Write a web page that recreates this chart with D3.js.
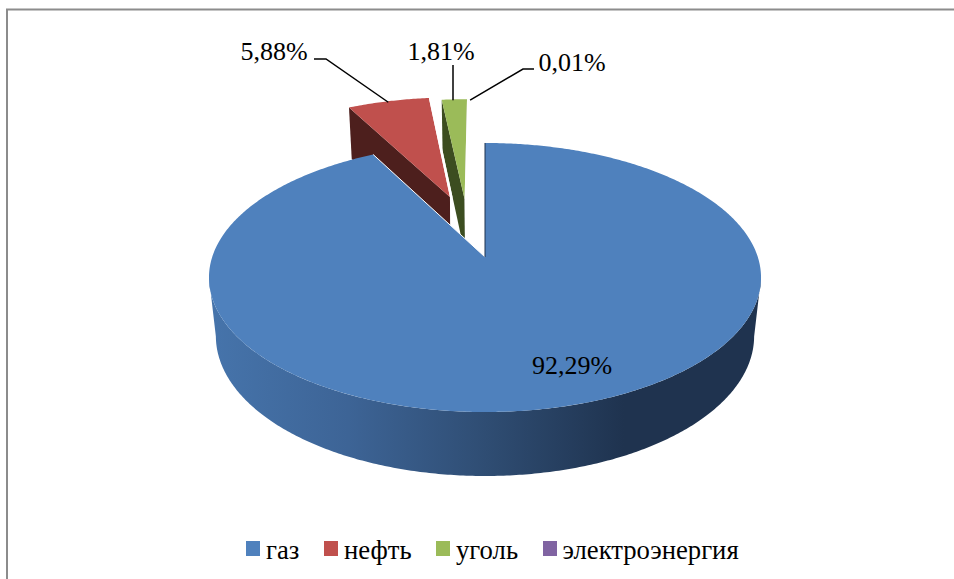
<!DOCTYPE html>
<html>
<head>
<meta charset="utf-8">
<script src="https://cdn.jsdelivr.net/npm/d3@7/dist/d3.min.js"></script>
<style>
    html, body { margin: 0; padding: 0; background: #fff; overflow: hidden; }
    text { font-family: "Liberation Serif", serif; fill: #000; }
</style>
</head>
<body>
<svg class="chart" width="954" height="579"></svg>
<script>
const categories = ["газ", "нефть", "уголь", "электроэнергия"];
const values = [92.29, 5.88, 1.81, 0.01];

const faceColors = ["#4f81bd", "#c0504d", "#9bbb59", "#8064a2"];
const wallColors = ["#1f3350", "#4d1f1d", "#3c4d20", "#3f3151"];

// how far every slice is pulled out of the pie, in units of the radius
const explode = [[0, 0], [-0.138, -0.491], [-0.08, -0.47], [-0.08, -0.47]];

// perspective of the pie plane, fitted on the rim of the big slice
const center = { x: 485, y: 257 };
const persp = { a: 272.8, b: 131.4, k: 0.1524, c: 59.7, m: 0.025 };

const svg = d3.select(".chart");

const color = d3.scaleOrdinal().domain(categories).range(faceColors);
const wallColor = d3.scaleOrdinal().domain(categories).range(wallColors);

const slices = d3.pie().sort(null).value(d => d.value)(
    categories.map((name, i) => ({ name, value: values[i], offset: explode[i] }))
);

// u, v on the plane of the pie, z = 0 on top, z = 1 on the bottom
function project(u, v, z) {
    const w = 1 - persp.k * v + persp.m * z;
    return [center.x + persp.a * u / w, center.y + (persp.b * v + persp.c * z) / w];
}

function rimPoint(d, angle, z) {
    return project(Math.sin(angle) + d.data.offset[0], -Math.cos(angle) + d.data.offset[1], z);
}

function apexPoint(d, z) {
    return project(d.data.offset[0], d.data.offset[1], z);
}

const line = d3.line();

function sweep(from, to) {
    const n = Math.max(2, Math.ceil(Math.abs(to - from) / 0.01));
    return d3.range(n + 1).map(i => from + (to - from) * i / n);
}

function facePath(d) {
    return line([apexPoint(d, 0), ...sweep(d.startAngle, d.endAngle).map(a => rimPoint(d, a, 0))]) + "Z";
}

function cutWallPath(d) {
    return line([apexPoint(d, 0), rimPoint(d, d.startAngle, 0), rimPoint(d, d.startAngle, 1), apexPoint(d, 1)]) + "Z";
}

const defs = svg.append("defs");
const grad = defs.append("linearGradient")
    .attr("id", "wall-gas")
    .attr("gradientUnits", "userSpaceOnUse")
    .attr("x1", 210).attr("x2", 762).attr("y1", 0).attr("y2", 0);
grad.append("stop").attr("offset", "0").attr("stop-color", "#4674ab");
grad.append("stop").attr("offset", "0.25").attr("stop-color", "#3d6496");
grad.append("stop").attr("offset", "0.5").attr("stop-color", "#2f4d73");
grad.append("stop").attr("offset", "0.75").attr("stop-color", "#1f334f");
grad.append("stop").attr("offset", "1").attr("stop-color", "#1f334f");

// frame of the chart, only top and left are inside the picture
svg.append("path")
    .attr("d", "M7,579V9.5H954")
    .attr("fill", "none")
    .attr("stroke", "#8c8c8c")
    .attr("stroke-width", 2);

// small slices first, the big one covers them
const drawOrder = [3, 2, 1];
drawOrder.forEach(i => {
    const d = slices[i];
    const g = svg.append("g");
    g.append("path")
        .attr("d", cutWallPath(d))
        .attr("fill", wallColor(d.data.name));
    g.append("path")
        .attr("d", facePath(d))
        .attr("fill", color(d.data.name));
    // white halo along the right cut, it eats into the slice behind
    g.append("path")
        .attr("d", line([rimPoint(d, d.endAngle, 0), apexPoint(d, 0), apexPoint(d, 1)]))
        .attr("fill", "none")
        .attr("stroke", "#fff")
        .attr("stroke-width", 2.5)
        .attr("transform", "translate(1.2,0)");
});

// outer wall of the big slice
const gas = slices[0];
const tangent = Math.acos(-persp.k);
const wallAngles = sweep(tangent, 2 * Math.PI - tangent);
svg.append("path")
    .attr("d", line([
        ...wallAngles.map(a => rimPoint(gas, a, 0)),
        ...wallAngles.slice().reverse().map(a => rimPoint(gas, a, 1))
    ]) + "Z")
    .attr("fill", "url(#wall-gas)");

svg.append("path")
    .attr("d", facePath(gas))
    .attr("fill", color(gas.data.name));

// white halo on the back cut of the big slice, then the wall seen edge on
svg.append("path")
    .attr("d", line([rimPoint(gas, gas.endAngle, 0), apexPoint(gas, 0)]))
    .attr("stroke", "#fff")
    .attr("stroke-width", 1)
    .attr("fill", "none");

svg.append("path")
    .attr("d", line([rimPoint(gas, 0, 0), apexPoint(gas, 0)]))
    .attr("stroke", "#1f334f")
    .attr("stroke-width", 1)
    .attr("fill", "none");

// value labels
const pct = d3.formatLocale({ decimal: ",", thousands: " ", grouping: [3], currency: ["", ""] }).format(".2f");
const labelPos = [[572, 374], [274, 60], [441, 60], [572, 71]];

svg.selectAll(".value-label")
    .data(slices)
    .enter()
    .append("text")
    .attr("class", "value-label")
    .attr("x", (d, i) => labelPos[i][0])
    .attr("y", (d, i) => labelPos[i][1])
    .attr("text-anchor", "middle")
    .style("font-size", "26px")
    .text(d => pct(d.data.value) + "%");

// leader lines, from the label elbow to the rim of the slice
const leaders = [
    { slice: 1, from: [[314, 59], [326, 59]] },
    { slice: 2, from: [[453, 65]] },
    { slice: 3, from: [[534, 69], [523, 69]] }
];

leaders.forEach(l => {
    const d = slices[l.slice];
    const mid = (d.startAngle + d.endAngle) / 2;
    const end = rimPoint(d, mid, 0);
    end[1] += 1;
    if (l.slice === 2) end[0] = l.from[0][0];
    if (l.slice === 3) end[0] += 3;
    svg.append("path")
        .attr("d", line([...l.from, end]))
        .attr("fill", "none")
        .attr("stroke", "#000")
        .attr("stroke-width", 1.5);
});

// legend
const legendX = [246, 324, 436, 543];
const legend = svg.selectAll(".legend-item")
    .data(categories)
    .enter()
    .append("g")
    .attr("class", "legend-item")
    .attr("transform", (d, i) => `translate(${legendX[i]},541)`);

legend.append("rect")
    .attr("width", 14)
    .attr("height", 15)
    .attr("fill", d => color(d));

legend.append("text")
    .attr("x", (d, i) => i === 3 ? 19.5 : 20)
    .attr("y", 18)
    .style("font-size", "26.7px")
    .text(d => d);
</script>
</body>
</html>
